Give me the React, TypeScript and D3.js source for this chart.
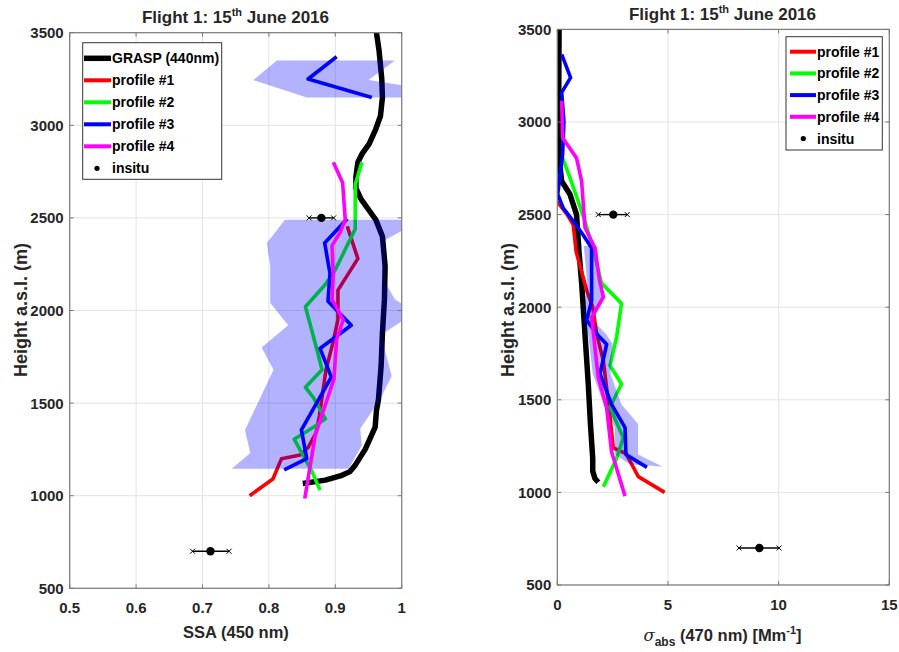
import React from "react";
import * as d3 from "d3";

// ---------- Left panel: SSA (450 nm) vs height ----------
const graspSsaHeight = [3500, 3400, 3250, 3150, 3050, 2980, 2900, 2850, 2800, 2720, 2660, 2600, 2540, 2490, 2400, 2240, 2060, 1880, 1700, 1520, 1460, 1370, 1330, 1250, 1165, 1130, 1110, 1084, 1066];
const graspSsa = [0.962, 0.966, 0.970, 0.971, 0.968, 0.961, 0.951, 0.941, 0.934, 0.931, 0.931, 0.939, 0.951, 0.961, 0.971, 0.975, 0.974, 0.971, 0.969, 0.965, 0.962, 0.960, 0.955, 0.945, 0.930, 0.922, 0.910, 0.885, 0.851];

const ssa1Height = [1000, 1090, 1200, 1220, 1260, 1340, 1430, 1680, 1820, 1950, 2110, 2280, 2455];
const ssa1 = [0.771, 0.806, 0.819, 0.847, 0.859, 0.871, 0.876, 0.886, 0.896, 0.904, 0.904, 0.934, 0.918];

const ssa2Height = [1030, 1130, 1305, 1370, 1415, 1530, 1585, 1680, 1780, 2020, 2140, 2220, 2440, 2500, 2680, 2800];
const ssa2 = [0.877, 0.865, 0.838, 0.867, 0.885, 0.867, 0.855, 0.880, 0.873, 0.855, 0.885, 0.900, 0.930, 0.930, 0.930, 0.940];

const ssa3Height = [1140, 1200, 1355, 1640, 1795, 1920, 2050, 2200, 2365, 2495, 2800, 3150, 3250, 3370];
const ssa3 = [0.823, 0.857, 0.849, 0.894, 0.877, 0.924, 0.889, 0.892, 0.884, 0.918, NaN, 0.955, 0.859, 0.902];

const ssa4Height = [985, 1330, 1630, 1740, 1845, 1950, 2060, 2200, 2350, 2420, 2490, 2690, 2800];
const ssa4 = [0.854, 0.870, 0.898, 0.900, 0.902, 0.912, 0.895, 0.897, 0.895, 0.907, 0.915, 0.911, 0.897];

// spread band of the profiles (outline: left edge top→bottom, then right edge bottom→top)
const ssaBandHeight = [2490, 2365, 2240, 2040, 1920, 1800, 1680, 1355, 1230, 1146, 1146, 1271, 1361, 1521, 1646, 1780, 1870, 1990, 2060, 2150, 2380, 2490];
const ssaBand = [0.824, 0.797, 0.802, 0.802, 0.829, 0.789, 0.807, 0.764, 0.772, 0.744, 0.920, 0.940, 0.9375, 0.9675, 0.985, 0.975, 0.970, 1.02, 0.99, 0.975, 0.975, 1.03];
const ssaBandTopHeight = [3350, 3350, 3244, 3205, 3150, 3150, 3244];
const ssaBandTop = [0.812, 0.990, 0.950, 1.02, 1.02, 0.857, 0.7765];

const ssaInsituHeight = [2500, 700];
const ssaInsitu = [0.879, 0.712];
const ssaInsituLo = [0.8605, 0.685];
const ssaInsituHi = [0.8975, 0.740];

// ---------- Right panel: absorption coefficient vs height ----------
const graspAbsHeight = [3500, 3000, 2790, 2680, 2610, 2500, 2300, 2130, 1855, 1585, 1365, 1185, 1115, 1075, 1055];
const graspAbs = [0.08, 0.06, 0.09, 0.2, 0.57, 0.87, 0.98, 1.1, 1.25, 1.4, 1.5, 1.6, 1.6, 1.7, 1.85];

const abs1Height = [2570, 2500, 2445, 2300, 2090, 2000, 1855, 1710, 1495, 1240, 1210, 1085, 1000];
const abs1 = [0.0, 0.45, 0.72, 0.85, 1.33, 1.6, 1.78, 2.08, 2.3, 2.53, 3.1, 3.66, 4.85];

const abs2Height = [2805, 2700, 2570, 2465, 2300, 2130, 2020, 1840, 1685, 1585, 1460, 1295, 1185, 1030];
const abs2 = [0.24, 0.57, 0.95, 1.25, 1.65, 2.0, 2.9, 2.68, 2.38, 2.9, 2.38, 2.98, 2.68, 2.08];

const abs3Height = [3365, 3240, 3160, 3000, 2825, 2610, 2535, 2465, 2390, 2320, 2035, 1930, 1855, 1800, 1640, 1475, 1350, 1205, 1135];
const abs3 = [0.2, 0.6, 0.2, 0.3, 0.24, 0.02, 0.27, 0.72, 1.17, 1.55, 1.55, 1.33, 1.78, 2.23, 1.93, 2.45, 3.06, 3.1, 4.05];

const abs4Height = [3115, 2915, 2805, 2680, 2430, 2320, 2150, 2055, 1945, 1620, 1455, 1220, 980];
const abs4 = [0.2, 0.24, 0.87, 1.1, 1.25, 1.7, 1.9, 2.08, 1.55, 1.85, 2.23, 2.45, 3.06];

const absBandHeight = [2330, 2130, 1930, 1850, 1640, 1475, 1350, 1205, 1150, 1140, 1205, 1370, 1475, 1640, 1800, 1855, 1930, 2050, 2130, 2330];
const absBand = [1.2, 1.35, 1.15, 1.4, 1.6, 2.1, 2.6, 2.6, 3.3, 4.75, 3.65, 3.65, 2.9, 2.4, 2.5, 2.2, 1.6, 2.15, 1.95, 1.8];

const absInsituHeight = [2500, 700];
const absInsitu = [2.53, 9.13];
const absInsituLo = [1.85, 8.21];
const absInsituHi = [3.16, 10.02];

// ---------- ticks and legend ----------
const heightTicks = [500, 1000, 1500, 2000, 2500, 3000, 3500];
const ssaTicks = [0.5, 0.6, 0.7, 0.8, 0.9, 1.0];
const absTicks = [0, 5, 10, 15];
const profileNames = ["profile #1", "profile #2", "profile #3", "profile #4"];
const profileColors = ["#ff0000", "#00ff00", "#0000ff", "#ff00ff"];

const FONT = "'Liberation Sans', Arial, Helvetica, sans-serif";
const TXT = "#262626";
const BAND = "rgba(0,0,255,0.3)";

type Sc = d3.ScaleLinear<number, number>;

function pathOf(x: Sc, y: Sc, hs: number[], vs: number[]) {
  const pts = hs.map((h, i) => [vs[i], h] as [number, number]);
  return d3
    .line<[number, number]>()
    .defined((d) => !isNaN(d[0]))
    .x((d) => x(d[0]))
    .y((d) => y(d[1]))(pts) || "";
}

function polyOf(x: Sc, y: Sc, hs: number[], vs: number[]) {
  return pathOf(x, y, hs, vs) + "Z";
}

function Frame({ x, y, xTicks, fmt, clipId }: { x: Sc; y: Sc; xTicks: number[]; fmt: (v: number) => string; clipId: string }) {
  const [x0, x1] = x.range();
  const [y0, y1] = y.range();
  const tl = 4;
  return (
    <g>
      {xTicks.map((t) => (
        <g key={"xt" + t}>
          <line x1={x(t)} x2={x(t)} y1={y0} y2={y0 - tl} stroke="#7a7a7a" />
          <line x1={x(t)} x2={x(t)} y1={y1} y2={y1 + tl} stroke="#7a7a7a" />
          <text x={x(t)} y={y0 + 25} textAnchor="middle" fontFamily={FONT} fontWeight="bold" fontSize={15} fill={TXT}>
            {fmt(t)}
          </text>
        </g>
      ))}
      {heightTicks.map((t) => (
        <g key={"yt" + t}>
          <line x1={x0} x2={x0 + tl} y1={y(t)} y2={y(t)} stroke="#7a7a7a" />
          <line x1={x1} x2={x1 - tl} y1={y(t)} y2={y(t)} stroke="#7a7a7a" />
          <text x={x0 - 6} y={y(t)} dy="0.36em" textAnchor="end" fontFamily={FONT} fontWeight="bold" fontSize={15} fill={TXT}>
            {t}
          </text>
        </g>
      ))}
      <rect x={x0} y={y1} width={x1 - x0} height={y0 - y1} fill="none" stroke="#7a7a7a" strokeWidth={1.2} />
    </g>
  );
}

function Grid({ x, y, xTicks }: { x: Sc; y: Sc; xTicks: number[] }) {
  const [x0, x1] = x.range();
  const [y0, y1] = y.range();
  return (
    <g stroke="#e3e3e3" strokeWidth={1}>
      {xTicks.map((t) => (
        <line key={"gx" + t} x1={x(t)} x2={x(t)} y1={y0} y2={y1} />
      ))}
      {heightTicks.map((t) => (
        <line key={"gy" + t} x1={x0} x2={x1} y1={y(t)} y2={y(t)} />
      ))}
    </g>
  );
}

function Insitu({ x, y, hs, vs, lo, hi }: { x: Sc; y: Sc; hs: number[]; vs: number[]; lo: number[]; hi: number[] }) {
  return (
    <g>
      {hs.map((h, i) => {
        const cy = y(h);
        const a = x(lo[i]);
        const b = x(hi[i]);
        const c = 2.5;
        return (
          <g key={"in" + i} stroke="#000" strokeWidth={1.4}>
            <line x1={a} x2={b} y1={cy} y2={cy} />
            <path d={`M${a - c},${cy - c}L${a + c},${cy + c}M${a - c},${cy + c}L${a + c},${cy - c}`} strokeWidth={1} />
            <path d={`M${b - c},${cy - c}L${b + c},${cy + c}M${b - c},${cy + c}L${b + c},${cy - c}`} strokeWidth={1} />
            <circle cx={x(vs[i])} cy={cy} r={4.2} fill="#000" stroke="none" />
          </g>
        );
      })}
    </g>
  );
}

function Title({ cx, y }: { cx: number; y: number }) {
  return (
    <text x={cx} y={y} textAnchor="middle" fontFamily={FONT} fontWeight="bold" fontSize={17} fill={TXT}>
      Flight 1: 15
      <tspan dy={-7} fontSize={11}>th</tspan>
      <tspan dy={7}> June 2016</tspan>
    </text>
  );
}

export default function App() {
  // left axes
  const xL = d3.scaleLinear().domain([0.5, 1]).range([69.7, 401.7]);
  const yL = d3.scaleLinear().domain([500, 3500]).range([588.3, 32.7]);
  // right axes
  const xR = d3.scaleLinear().domain([0, 15]).range([557.3, 889.3]);
  const yR = d3.scaleLinear().domain([500, 3500]).range([585, 29.4]);

  const fmtSsa = (v: number) => (v === 1 ? "1" : d3.format(".1f")(v));
  const fmtAbs = (v: number) => String(v);

  const lw = 3.6;
  const legL = { x0: 82.7, y0: 42.7, x1: 221.7, y1: 179.3 };
  const legR = { x0: 786, y0: 36.7, x1: 882.3, y1: 150 };

  return (
    <svg width={899} height={652} style={{ display: "block", position: "absolute", left: 0, top: 0 }}>
      <rect width={899} height={652} fill="#fff" />
      <defs>
        <clipPath id="clipL">
          <rect x={69.7} y={32.7} width={332} height={555.6} />
        </clipPath>
        <clipPath id="clipR">
          <rect x={557.3} y={29.4} width={332} height={555.6} />
        </clipPath>
      </defs>

      {/* ---------- left panel ---------- */}
      <Grid x={xL} y={yL} xTicks={ssaTicks} />
      <g clipPath="url(#clipL)" fill="none" strokeLinejoin="round">
        <path d={pathOf(xL, yL, graspSsaHeight, graspSsa)} stroke="#000" strokeWidth={5.5} />
        <path d={pathOf(xL, yL, ssa1Height, ssa1)} stroke={profileColors[0]} strokeWidth={lw} />
        <path d={pathOf(xL, yL, ssa2Height, ssa2)} stroke={profileColors[1]} strokeWidth={lw} />
        <path d={polyOf(xL, yL, ssaBandHeight, ssaBand)} fill={BAND} stroke="none" />
        <path d={polyOf(xL, yL, ssaBandTopHeight, ssaBandTop)} fill={BAND} stroke="none" />
        <path d={pathOf(xL, yL, ssa3Height, ssa3)} stroke={profileColors[2]} strokeWidth={lw} />
        <path d={pathOf(xL, yL, ssa4Height, ssa4)} stroke={profileColors[3]} strokeWidth={lw} />
      </g>
      <Insitu x={xL} y={yL} hs={ssaInsituHeight} vs={ssaInsitu} lo={ssaInsituLo} hi={ssaInsituHi} />
      <Frame x={xL} y={yL} xTicks={ssaTicks} fmt={fmtSsa} clipId="clipL" />
      <Title cx={235.5} y={23} />
      <text x={236} y={638} textAnchor="middle" fontFamily={FONT} fontWeight="bold" fontSize={16.5} fill={TXT}>
        SSA (450 nm)
      </text>
      <text transform="translate(26.5,310) rotate(-90)" textAnchor="middle" fontFamily={FONT} fontWeight="bold" fontSize={18} fill={TXT}>
        Height a.s.l. (m)
      </text>

      {/* left legend */}
      <g>
        <rect x={legL.x0} y={legL.y0} width={legL.x1 - legL.x0} height={legL.y1 - legL.y0} fill="#fff" stroke="#333" strokeWidth={1} />
        {["GRASP (440nm)", ...profileNames, "insitu"].map((name, i) => {
          const cy = 58.3 + i * 22;
          return (
            <g key={"lgL" + i}>
              {i === 0 && <line x1={84} x2={111} y1={cy} y2={cy} stroke="#000" strokeWidth={5.5} />}
              {i >= 1 && i <= 4 && <line x1={84} x2={111} y1={cy} y2={cy} stroke={profileColors[i - 1]} strokeWidth={4} />}
              {i === 5 && <circle cx={97} cy={cy} r={2.6} fill="#000" />}
              <text x={112} y={cy} dy="0.36em" fontFamily={FONT} fontWeight="bold" fontSize={14} fill="#000">
                {name}
              </text>
            </g>
          );
        })}
      </g>

      {/* ---------- right panel ---------- */}
      <Grid x={xR} y={yR} xTicks={absTicks} />
      <g clipPath="url(#clipR)" fill="none" strokeLinejoin="round">
        <path d={pathOf(xR, yR, graspAbsHeight, graspAbs)} stroke="#000" strokeWidth={5.5} />
        <path d={pathOf(xR, yR, abs1Height, abs1)} stroke={profileColors[0]} strokeWidth={lw} />
        <path d={pathOf(xR, yR, abs2Height, abs2)} stroke={profileColors[1]} strokeWidth={lw} />
        <path d={polyOf(xR, yR, absBandHeight, absBand)} fill={BAND} stroke="none" />
        <path d={pathOf(xR, yR, abs3Height, abs3)} stroke={profileColors[2]} strokeWidth={lw} />
        <path d={pathOf(xR, yR, abs4Height, abs4)} stroke={profileColors[3]} strokeWidth={lw} />
      </g>
      <Insitu x={xR} y={yR} hs={absInsituHeight} vs={absInsitu} lo={absInsituLo} hi={absInsituHi} />
      <Frame x={xR} y={yR} xTicks={absTicks} fmt={fmtAbs} clipId="clipR" />
      <Title cx={722.5} y={20} />
      <text x={722.5} y={641} textAnchor="middle" fontFamily={FONT} fontWeight="bold" fontSize={16.5} fill={TXT}>
        <tspan fontFamily="'DejaVu Serif', serif" fontStyle="italic" fontWeight="normal">σ</tspan>
        <tspan dy={5} fontSize={12}>abs</tspan>
        <tspan dy={-5}> (470 nm) [Mm</tspan>
        <tspan dy={-7} fontSize={11}>-1</tspan>
        <tspan dy={7}>]</tspan>
      </text>
      <text transform="translate(514,310) rotate(-90)" textAnchor="middle" fontFamily={FONT} fontWeight="bold" fontSize={18} fill={TXT}>
        Height a.s.l. (m)
      </text>

      {/* right legend */}
      <g>
        <rect x={legR.x0} y={legR.y0} width={legR.x1 - legR.x0} height={legR.y1 - legR.y0} fill="#fff" stroke="#333" strokeWidth={1} />
        {[...profileNames, "insitu"].map((name, i) => {
          const cy = 51.7 + i * 21.7;
          return (
            <g key={"lgR" + i}>
              {i <= 3 && <line x1={790} x2={816} y1={cy} y2={cy} stroke={profileColors[i]} strokeWidth={4} />}
              {i === 4 && <circle cx={803.3} cy={cy} r={2.6} fill="#000" />}
              <text x={817} y={cy} dy="0.36em" fontFamily={FONT} fontWeight="bold" fontSize={14} fill="#000">
                {name}
              </text>
            </g>
          );
        })}
      </g>
    </svg>
  );
}
